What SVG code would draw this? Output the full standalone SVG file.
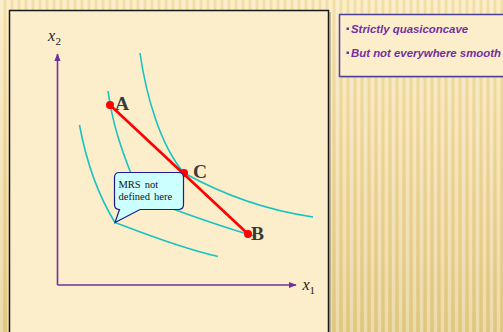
<svg xmlns="http://www.w3.org/2000/svg" width="503" height="332" viewBox="0 0 503 332">
  <defs>
    <linearGradient id="bg" x1="0" y1="0" x2="0" y2="1">
      <stop offset="0" stop-color="#F9E7B6"/>
      <stop offset="0.6" stop-color="#EED69A"/>
      <stop offset="1" stop-color="#E3CB86"/>
    </linearGradient>
    <pattern id="stripes" width="7" height="332" patternUnits="userSpaceOnUse">
      <rect x="0" y="0" width="3" height="332" fill="#FFFFFF" opacity="0.3"/>
      <rect x="4" y="0" width="2" height="332" fill="#C9A85A" opacity="0.15"/>
    </pattern>
    <marker id="arr" viewBox="0 0 10 10" refX="9" refY="5" markerWidth="5" markerHeight="5" orient="auto">
      <path d="M0,1 L10,5 L0,9 z" fill="#7030A0"/>
    </marker>
    <style>
      .curve { fill: none; stroke: #19C3C3; stroke-width: 1.6; }
      .axis { fill: none; stroke: #7030A0; stroke-width: 1.6; }
      .pt { fill: #FF0000; }
      .lbl { font-family: "Liberation Serif", "Times New Roman", serif; font-weight: bold; font-size: 19.5px; fill: #3A3A3A; }
      .ax { font-family: "Liberation Serif", "Times New Roman", serif; font-style: italic; font-size: 16px; fill: #222222; }
      .sub { font-family: "Liberation Serif", "Times New Roman", serif; font-size: 11px; fill: #222222; }
      .call { font-family: "Liberation Serif", "Times New Roman", serif; font-size: 10.5px; fill: #111111; word-spacing: 1.5px; }
      .bul { font-family: "Liberation Sans", Arial, sans-serif; font-weight: bold; font-style: italic; font-size: 11.4px; fill: #7030A0; }
    </style>
  </defs>

  <!-- background -->
  <rect x="0" y="0" width="503" height="332" fill="url(#bg)"/>
  <rect x="0" y="0" width="503" height="332" fill="url(#stripes)"/>

  <!-- main panel -->
  <g id="panel">
    <rect x="11" y="12" width="320" height="330" fill="#6B6050" opacity="0.35"/>
    <rect x="9.5" y="10.5" width="319" height="330" fill="#FCEECB" stroke="#1A1A1A" stroke-width="1.5"/>
  </g>

  <!-- side text box -->
  <g id="notes">
    <rect x="341" y="16" width="175" height="62" fill="#8A80B0" opacity="0.35"/>
    <rect x="339.5" y="14.5" width="175" height="62" fill="#FCEECB" stroke="#4B3FA0" stroke-width="1.5"/>
    <rect x="346.5" y="27.5" width="2.5" height="2.5" fill="#7030A0"/>
    <text class="bul" x="351" y="32.5">Strictly quasiconcave</text>
    <rect x="346.5" y="51.5" width="2.5" height="2.5" fill="#7030A0"/>
    <text class="bul" x="351" y="56.5">But not everywhere smooth</text>
  </g>

  <!-- axes -->
  <g id="axes">
    <path class="axis" d="M57.5,285 L57.5,54" marker-end="url(#arr)"/>
    <path class="axis" d="M57.5,285 L296,285" marker-end="url(#arr)"/>
    <text class="ax" x="48" y="41">x</text>
    <text class="sub" x="55.5" y="44.5">2</text>
    <text class="ax" x="302.5" y="290">x</text>
    <text class="sub" x="309.5" y="293.5">1</text>
  </g>

  <!-- indifference curves -->
  <g id="connectors">
    <path id="curve1" class="curve" d="M79.5,125 C86,160 98,195 115,222.5 C140,232 180,248 218,256.5"/>
    <path id="curve2" class="curve" d="M108,91 C112,120 120,150 141,197 C175,210 215,225 256,236.5"/>
    <path id="curve3" class="curve" d="M140,53 C146,95 160,145 184,173 C220,193 265,210 313,217"/>
    <path id="chord" d="M110,105 L248,234" fill="none" stroke="#FF0000" stroke-width="2.6"/>
  </g>

  <!-- points -->
  <g id="pointA">
    <circle class="pt" cx="110" cy="105" r="4"/>
    <text class="lbl" x="115" y="110">A</text>
  </g>
  <g id="pointC">
    <circle class="pt" cx="184" cy="173" r="4"/>
    <text class="lbl" x="193" y="178">C</text>
  </g>
  <g id="pointB">
    <circle class="pt" cx="248" cy="234" r="4"/>
    <text class="lbl" x="251" y="240">B</text>
  </g>

  <!-- callout -->
  <g id="callout">
    <path d="M119.5,172.5 L178.5,172.5 Q183.5,172.5 183.5,177.5 L183.5,204.5 Q183.5,209.5 178.5,209.5 L140,209.5 L115,222.5 L119.5,209.5 Q114.5,209.5 114.5,204.5 L114.5,177.5 Q114.5,172.5 119.5,172.5 Z" fill="#CCFFFF" stroke="#1C1C8C" stroke-width="1.2"/>
    <text class="call" x="118.5" y="187.5">MRS not</text>
    <text class="call" x="118.5" y="199.5">defined here</text>
  </g>
</svg>
